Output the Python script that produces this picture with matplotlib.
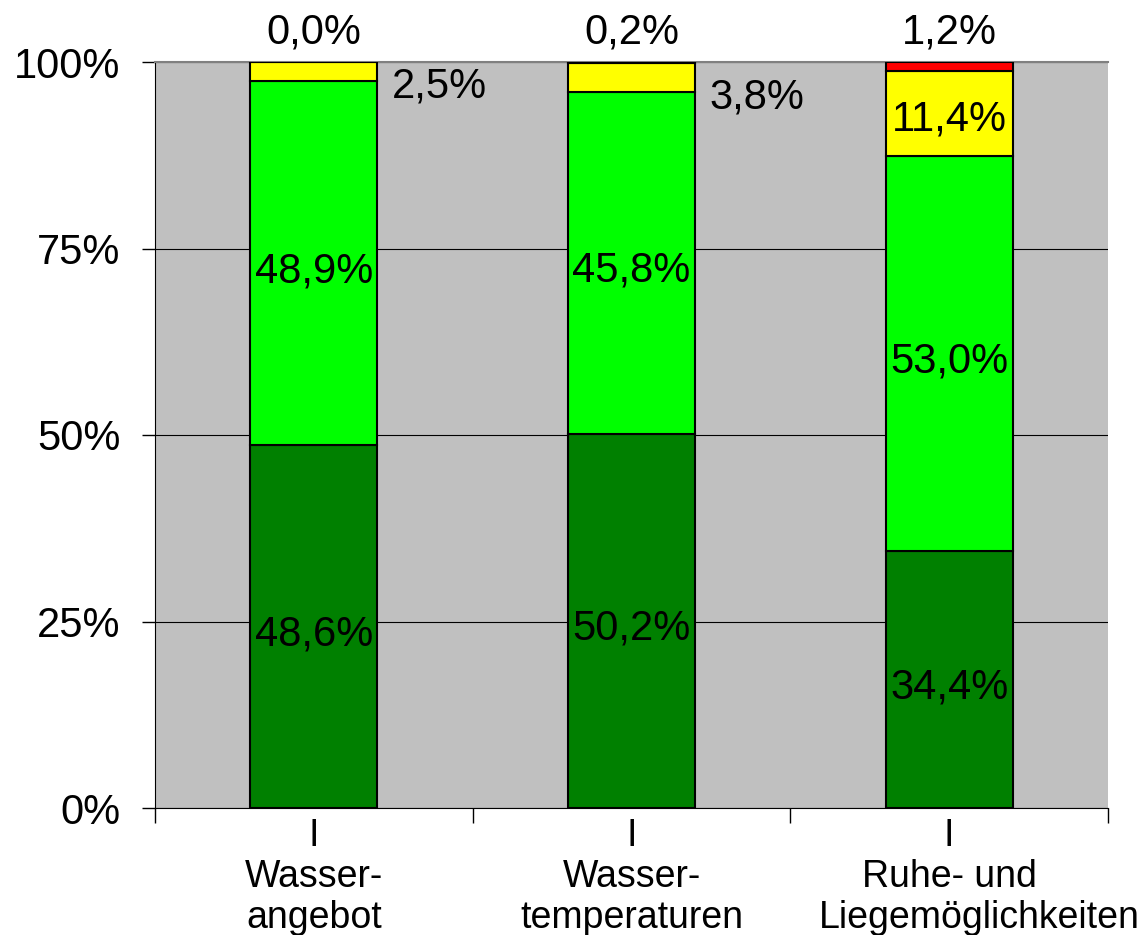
import matplotlib
matplotlib.use("Agg")
import matplotlib.pyplot as plt
import numpy as np

plt.rcParams['font.family'] = ['Liberation Sans', 'DejaVu Sans']

categories = [["I", "Wasser-", "angebot"],
              ["I", "Wasser-", "temperaturen"],
              ["I", "Ruhe- und", "Liegemöglichkeiten"]]
dark_green = [48.6, 50.2, 34.4]
light_green = [48.9, 45.8, 53.0]
yellow = [2.5, 3.8, 11.4]
red = [0.0, 0.2, 1.2]
yticks = [0, 25, 50, 75, 100]
ytick_labels = ["0%", "25%", "50%", "75%", "100%"]

series = [dark_green, light_green, yellow, red]
colors = ["#008000", "#00FF00", "#FFFF00", "#FF0000"]

fig = plt.figure(figsize=(11.48, 9.35), dpi=100)
ax = fig.add_axes([155/1148, 1-808/935, (1108-155)/1148, (808-62)/935])
ax.set_facecolor("#C0C0C0")

x = np.arange(len(categories))
width = 0.4
bottom = np.zeros(len(categories))
for vals, c in zip(series, colors):
    ax.bar(x, vals, width, bottom=bottom, color=c, edgecolor="black", linewidth=1.5, zorder=3)
    bottom = bottom + np.array(vals)

def fmt(v):
    return f"{v:.1f}%".replace(".", ",")

fs = 30
dg = np.array(dark_green); lg = np.array(light_green); ye = np.array(yellow); rd = np.array(red)
for i in range(3):
    ax.text(x[i], dg[i]/2 - 1.1, fmt(dg[i]), ha="center", va="center", fontsize=fs, zorder=4)
    ax.text(x[i], dg[i] + lg[i]/2 - 1.1, fmt(lg[i]), ha="center", va="center", fontsize=fs, zorder=4)
    ax.text(x[i], 104.0, fmt(rd[i]), ha="center", va="center", fontsize=fs, clip_on=False, zorder=4)
    ytop = dg[i] + lg[i]
    if ye[i] > 6:
        ax.text(x[i], ytop + ye[i]/2 - 0.8, fmt(ye[i]), ha="center", va="center", fontsize=fs, zorder=4)
    else:
        ax.text(x[i] + width/2 + 0.045, ytop - 0.8, fmt(ye[i]), ha="left", va="center", fontsize=fs, zorder=4)

ax.set_xlim(-0.5, 2.5)
ax.set_ylim(0, 100)
ax.set_yticks(yticks)
ax.set_yticklabels(ytick_labels, fontsize=fs)
ax.yaxis.grid(True, color="black", linewidth=0.8, zorder=1)
ax.set_axisbelow(True)

ax.set_xticks([-0.5, 0.5, 1.5, 2.5])
ax.set_xticklabels([])
ax.tick_params(axis="x", which="major", length=11, width=1, color="black", direction="out")
ax.tick_params(axis="y", length=9.5, width=1, pad=15.5)

# category labels, line by line
line_offsets = [-27, -57, -86.5]   # points below the axis (baselines)
x_shift = {(2, 2): 22}             # the long last line sits to the right
for i, lines in enumerate(categories):
    for j, line in enumerate(lines):
        ax.annotate(line, xy=(x[i], 0), xycoords=("data", "axes fraction"),
                    xytext=(x_shift.get((i, j), 0), line_offsets[j]), textcoords="offset points",
                    ha="center", va="baseline", fontsize=27, annotation_clip=False)

ax.spines["top"].set_color("#808080")
ax.spines["top"].set_linewidth(1.5)
ax.spines["right"].set_visible(False)
ax.spines["left"].set_color("black")
ax.spines["bottom"].set_color("black")

fig.savefig("out.png", dpi=100, facecolor="white")
